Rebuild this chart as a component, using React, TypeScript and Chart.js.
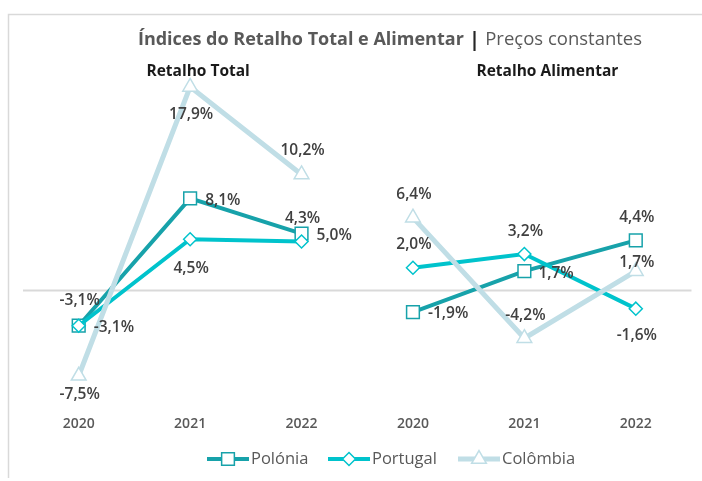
import React, { useEffect, useRef } from 'react';
import { Chart, registerables } from 'chart.js';

Chart.register(...registerables);

// ---- Data ----
const categories = ['2020', '2021', '2022', '2020', '2021', '2022'];
const seriesNames = ['Polónia', 'Portugal', 'Colômbia'];
const poloniaTotal = [-3.1, 8.1, 5.0];
const poloniaAlimentar = [-1.9, 1.7, 4.4];
const portugalTotal = [-3.1, 4.5, 4.3];
const portugalAlimentar = [2.0, 3.2, -1.6];
const colombiaTotal = [-7.5, 17.9, 10.2];
const colombiaAlimentar = [6.4, -4.2, 1.7];
const panelTitles = ['Retalho Total', 'Retalho Alimentar'];
const chartTitleBold = 'Índices do Retalho Total e Alimentar';
const chartTitleRest = 'Preços constantes';
const yMin = -10;
const yMax = 20;

// ---- Styles ----
const colors = ['#17A2AA', '#00C3CC', '#C0DEE6'];
const pointStyles = ['rect', 'rectRot', 'triangle'];
const pointRadii = [9, 6.5, 8.5];
const lineWidths = [4, 4, 5];
const drawOrder = [2, 1, 0];
// label placement per point: r = right, a = above, b = below (with gap in px)
const labelPlacement: [string, number][][] = [
  [['r', 15], ['r', 15], ['r', 15], ['r', 15], ['r', 14], ['a', 25]],
  [['a', 27], ['b', 27], ['a', 25], ['a', 25], ['a', 24], ['b', 25]],
  [['b', 17], ['b', 26], ['a', 26], ['a', 25], ['a', 25], ['a', 11]],
];

const FONT = "'Open Sans', 'Noto Sans', sans-serif";

const fmt = (v: number) => v.toFixed(1).replace('.', ',') + '%';

function drawMarker(ctx: CanvasRenderingContext2D, style: string, x: number, y: number, r: number) {
  ctx.beginPath();
  if (style === 'rect') {
    const s = Math.SQRT1_2 * r;
    ctx.rect(x - s, y - s, 2 * s, 2 * s);
  } else if (style === 'rectRot') {
    ctx.moveTo(x, y - r);
    ctx.lineTo(x + r, y);
    ctx.lineTo(x, y + r);
    ctx.lineTo(x - r, y);
    ctx.closePath();
  } else {
    let rad = 0;
    ctx.moveTo(x + Math.sin(rad) * r, y - Math.cos(rad) * r);
    rad += (2 * Math.PI) / 3;
    ctx.lineTo(x + Math.sin(rad) * r, y - Math.cos(rad) * r);
    rad += (2 * Math.PI) / 3;
    ctx.lineTo(x + Math.sin(rad) * r, y - Math.cos(rad) * r);
    ctx.closePath();
  }
  ctx.fill();
  ctx.stroke();
}

const decorPlugin = {
  id: 'decor',
  beforeDatasetsDraw(chart: any) {
    const { ctx, chartArea, scales } = chart;
    const y0 = scales.y.getPixelForValue(0);
    ctx.save();
    ctx.strokeStyle = '#D9D9D9';
    ctx.lineWidth = 2;
    ctx.beginPath();
    ctx.moveTo(chartArea.left, y0);
    ctx.lineTo(chartArea.right, y0);
    ctx.stroke();
    ctx.restore();
  },
  afterDatasetsDraw(chart: any) {
    const { ctx } = chart;
    ctx.save();
    ctx.font = `600 15.5px ${FONT}`;
    ctx.fillStyle = '#404040';
    chart.data.datasets.forEach((ds: any, di: number) => {
      const s = ds.seriesIndex;
      const meta = chart.getDatasetMeta(di);
      meta.data.forEach((pt: any, i: number) => {
        const v = ds.data[i];
        if (v === null || v === undefined) return;
        const [pos, gap] = labelPlacement[s][i];
        const text = fmt(v);
        ctx.textBaseline = 'middle';
        if (pos === 'r') {
          ctx.textAlign = 'left';
          ctx.fillText(text, pt.x + gap, pt.y + 2);
        } else if (pos === 'a') {
          ctx.textAlign = 'center';
          ctx.fillText(text, pt.x + 1, pt.y - gap + 2);
        } else {
          ctx.textAlign = 'center';
          ctx.fillText(text, pt.x + 1, pt.y + gap + 2);
        }
      });
    });
    ctx.restore();
  },
  afterDraw(chart: any) {
    const { ctx, scales } = chart;
    ctx.save();
    // frame
    ctx.strokeStyle = '#D9D9D9';
    ctx.lineWidth = 1.5;
    ctx.beginPath();
    ctx.moveTo(8.5, 478);
    ctx.lineTo(8.5, 14.5);
    ctx.lineTo(702, 14.5);
    ctx.stroke();

    // main title
    ctx.textBaseline = 'middle';
    ctx.textAlign = 'left';
    const boldFont = `bold 18px ${FONT}`;
    const normFont = `18.5px ${FONT}`;
    const barFont = `bold 20px ${FONT}`;
    ctx.font = boldFont;
    const w1 = ctx.measureText(chartTitleBold).width;
    ctx.font = barFont;
    const w2 = ctx.measureText(' | ').width;
    ctx.font = normFont;
    const w3 = ctx.measureText(chartTitleRest).width;
    let x = 390 - (w1 + w2 + w3) / 2;
    const ty = 40;
    ctx.font = boldFont;
    ctx.fillStyle = '#595959';
    ctx.fillText(chartTitleBold, x, ty);
    x += w1;
    ctx.font = barFont;
    ctx.fillStyle = '#262626';
    ctx.fillText(' | ', x, ty);
    x += w2;
    ctx.font = normFont;
    ctx.fillStyle = '#595959';
    ctx.fillText(chartTitleRest, x, ty);

    // panel subtitles
    ctx.font = `bold 15.5px ${FONT}`;
    ctx.fillStyle = '#1A1A1A';
    ctx.textAlign = 'center';
    const xs = scales.x;
    ctx.fillText(panelTitles[0], xs.getPixelForValue(1) + 8, 72);
    ctx.fillText(panelTitles[1], xs.getPixelForValue(4) + 23, 72);

    // legend
    const ly = 459;
    const starts = [207, 328, 458];
    ctx.font = `16.5px ${FONT}`;
    ctx.textAlign = 'left';
    seriesNames.forEach((name, s) => {
      const lx = starts[s];
      ctx.strokeStyle = colors[s];
      ctx.lineWidth = lineWidths[s];
      ctx.beginPath();
      ctx.moveTo(lx, ly);
      ctx.lineTo(lx + 42, ly);
      ctx.stroke();
      ctx.fillStyle = '#FFFFFF';
      ctx.lineWidth = 1.5;
      drawMarker(ctx, pointStyles[s], lx + 21, ly, pointRadii[s]);
      ctx.fillStyle = '#595959';
      ctx.fillText(name, lx + 44, ly);
    });
    ctx.restore();
  },
};

function buildDatasets() {
  const pairs = [
    [poloniaTotal, poloniaAlimentar],
    [portugalTotal, portugalAlimentar],
    [colombiaTotal, colombiaAlimentar],
  ];
  const out: any[] = [];
  pairs.forEach(([tot, ali], s) => {
    const common = {
      label: seriesNames[s],
      seriesIndex: s,
      borderColor: colors[s],
      borderWidth: lineWidths[s],
      pointStyle: pointStyles[s],
      pointRadius: pointRadii[s],
      pointHoverRadius: pointRadii[s],
      pointBackgroundColor: '#FFFFFF',
      pointBorderColor: colors[s],
      pointBorderWidth: 1.5,
      fill: false,
      tension: 0,
      spanGaps: false,
      clip: false,
      order: drawOrder[s],
    };
    out.push({ ...common, data: [...tot, null, null, null] });
    out.push({ ...common, data: [null, null, null, ...ali] });
  });
  return out;
}

export default function App() {
  const canvasRef = useRef<HTMLCanvasElement | null>(null);
  useEffect(() => {
    if (!canvasRef.current) return;
    const chart = new Chart(canvasRef.current, {
      type: 'line',
      data: { labels: categories, datasets: buildDatasets() },
      options: {
        animation: false,
        responsive: false,
        layout: { padding: { left: 23, right: 7, top: 63, bottom: 38 } },
        plugins: {
          legend: { display: false },
          tooltip: { enabled: false },
          title: { display: false },
        },
        scales: {
          x: {
            type: 'category',
            offset: true,
            grid: { display: false, drawTicks: false },
            border: { display: false },
            ticks: {
              color: '#595959',
              font: { family: FONT, size: 14, weight: '600' },
              padding: 11,
              maxRotation: 0,
              autoSkip: false,
            },
          },
          y: {
            display: false,
            min: yMin,
            max: yMax,
          },
        },
      } as any,
      plugins: [decorPlugin],
    });
    return () => chart.destroy();
  }, []);
  return (
    <div style={{ position: 'fixed', left: 0, top: 0, width: 702, height: 481, background: '#FFFFFF' }}>
      <canvas ref={canvasRef} width={702} height={481} style={{ display: 'block' }} />
    </div>
  );
}
